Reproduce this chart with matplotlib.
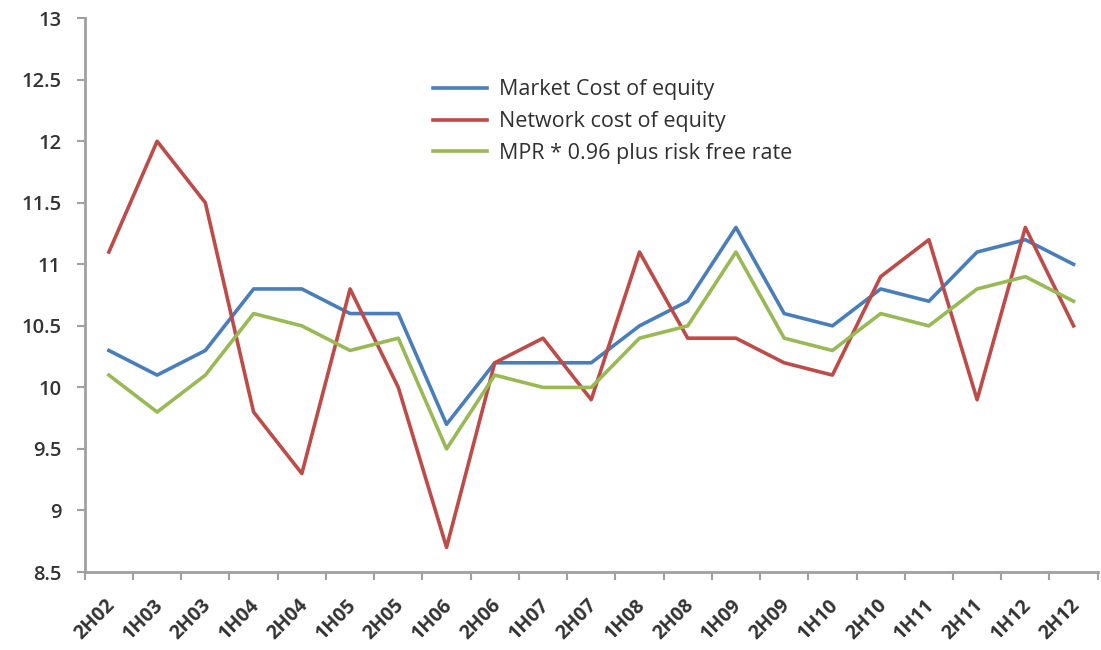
import matplotlib.pyplot as plt
import matplotlib.transforms as mtransforms
import numpy as np

periods = ["2H02", "1H03", "2H03", "1H04", "2H04", "1H05", "2H05", "1H06", "2H06",
           "1H07", "2H07", "1H08", "2H08", "1H09", "2H09", "1H10", "2H10", "1H11",
           "2H11", "1H12", "2H12"]
market = [10.3, 10.1, 10.3, 10.8, 10.8, 10.6, 10.6, 9.7, 10.2, 10.2, 10.2,
          10.5, 10.7, 11.3, 10.6, 10.5, 10.8, 10.7, 11.1, 11.2, 11.0]
network = [11.1, 12.0, 11.5, 9.8, 9.3, 10.8, 10.0, 8.7, 10.2, 10.4, 9.9,
           11.1, 10.4, 10.4, 10.2, 10.1, 10.9, 11.2, 9.9, 11.3, 10.5]
mpr = [10.1, 9.8, 10.1, 10.6, 10.5, 10.3, 10.4, 9.5, 10.1, 10.0, 10.0,
       10.4, 10.5, 11.1, 10.4, 10.3, 10.6, 10.5, 10.8, 10.9, 10.7]

plt.rcParams['font.family'] = ['Open Sans', 'DejaVu Sans']

fig = plt.figure(figsize=(11.01, 6.5), dpi=100)
ax = fig.add_axes([0.077, 0.12, 0.92, 0.852])

x = np.arange(len(periods))
ax.plot(x, market, color='#4A7EBB', lw=2.6, label='Market Cost of equity')
ax.plot(x, network, color='#BE4B48', lw=2.6, label='Network cost of equity')
ax.plot(x, mpr, color='#98B954', lw=2.6, label='MPR * 0.96 plus risk free rate')

ax.set_xlim(-0.5, len(periods) - 0.5)
ax.set_ylim(8.5, 13)
ax.set_yticks(np.arange(8.5, 13.01, 0.5))
ax.set_yticklabels([f"{v:g}" for v in np.arange(8.5, 13.01, 0.5)])

# boundaries get the tick marks, centres get the labels
ax.set_xticks(np.arange(-0.5, len(periods), 1.0))
ax.set_xticklabels([])
ax.set_xticks(x, minor=True)
ax.set_xticklabels(periods, minor=True, rotation=45, ha='right',
                   rotation_mode='anchor')
ax.tick_params(axis='x', which='minor', length=0, pad=17)
ax.tick_params(axis='y', which='major', pad=11)
ax.tick_params(axis='both', which='major', length=6, width=1.5, color='#A0A0A0')
ax.tick_params(axis='both', which='both', labelsize=14, labelcolor='#333333')
ax.tick_params(axis='y', labelsize=14.5)
shift = mtransforms.ScaledTranslation(-4 / 100, 0, fig.dpi_scale_trans)
for lab in ax.get_xticklabels(minor=True):
    lab.set_fontweight('bold')
    lab.set_transform(lab.get_transform() + shift)
for lab in ax.get_yticklabels():
    lab.set_fontweight('semibold')

for s in ['top', 'right']:
    ax.spines[s].set_visible(False)
for s in ['left', 'bottom']:
    ax.spines[s].set_color('#A0A0A0')
    ax.spines[s].set_linewidth(2)

ax.legend(loc='upper left', bbox_to_anchor=(0.335, 0.905), frameon=False,
          borderaxespad=0, prop={'size': 15.5, 'weight': 'medium'},
          handlelength=2.5, handletextpad=0.6, labelspacing=0.5,
          labelcolor='#303030')

fig.savefig('out.png', dpi=100)
